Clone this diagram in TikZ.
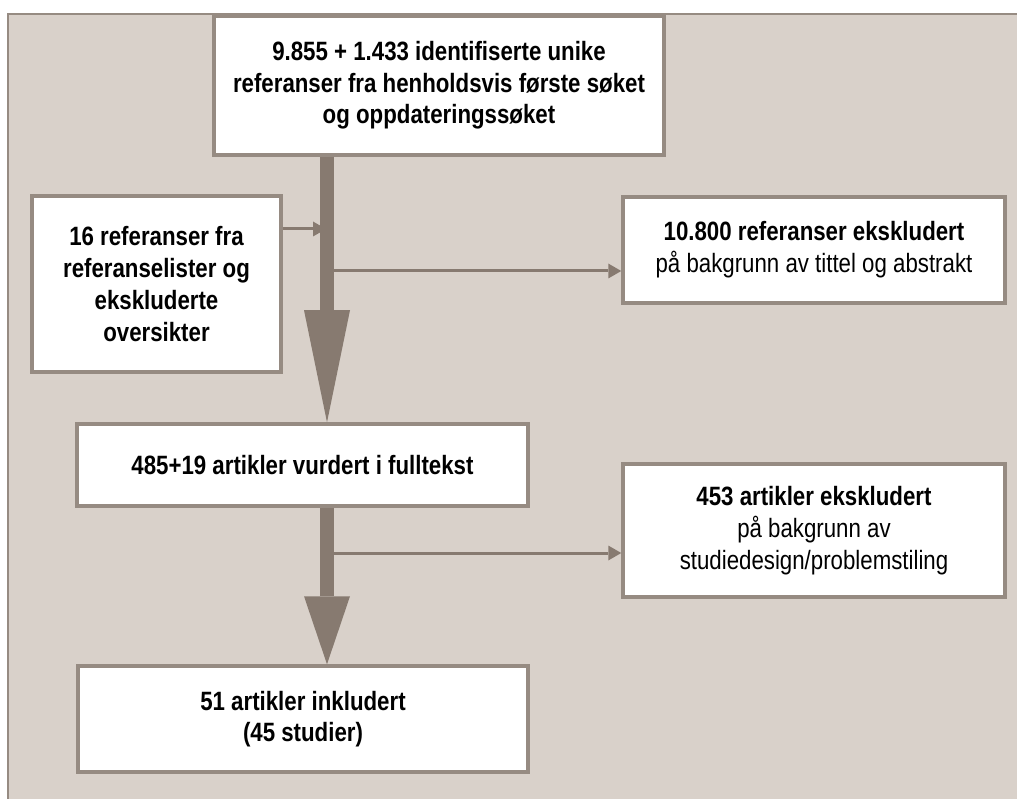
\documentclass[tikz,border=0pt]{standalone}
\usepackage{fontspec}
\newfontfamily\narrowsans{Liberation Sans}[FakeStretch=0.84]
\usetikzlibrary{arrows.meta}
\definecolor{panel}{HTML}{D9D1CA}
\definecolor{frame}{HTML}{968B82}
\definecolor{flowcol}{HTML}{877A70}
\tikzset{
  box/.style={draw=frame,line width=3.5pt,fill=white,inner sep=0pt,align=center,
    font=\narrowsans\fontsize{26.5}{31.7}\selectfont},
  boldbox/.style={box,font=\narrowsans\bfseries\fontsize{26.5}{31.7}\selectfont},
  mainflow/.style={draw=flowcol,line width=14pt,
    -{Triangle[length=#1,width=46pt,line width=0pt]}},
  exitarrow/.style={draw=flowcol,line width=3pt,
    -{Triangle[length=13pt,width=15pt,line width=0pt]}}
}
\begin{document}
\begin{tikzpicture}[x=1pt,y=-1pt]
  \useasboundingbox (0,0) rectangle (1017,799);
  \fill[panel] (8,14) rectangle (1017,799);
  \draw[frame,line width=1.5pt] (8,799) -- (8,14) -- (1017,14);

  \node[boldbox,minimum width=450pt,minimum height=139pt] (srch) at (439,85.5)
    {9.855 + 1.433 identifiserte unike\\ referanser fra henholdsvis første søket\\ og oppdateringssøket};
  \node[boldbox,minimum width=249pt,minimum height=176pt] (extra) at (156.5,284)
    {16 referanser fra\\ referanselister og\\ ekskluderte\\ oversikter};
  \node[box,minimum width=382pt,minimum height=106pt] (excl1) at (814,250)
    {\textbf{10.800 referanser ekskludert}\\ på bakgrunn av tittel og abstrakt};
  \node[boldbox,minimum width=451pt,minimum height=82pt] (full) at (302.5,465)
    {485+19 artikler vurdert i fulltekst};
  \node[box,minimum width=382pt,minimum height=133pt] (excl2) at (814,530.5)
    {\textbf{453 artikler ekskludert}\\ på bakgrunn av\\ studiedesign/problemstiling};
  \node[boldbox,minimum width=450pt,minimum height=106pt] (incl) at (303,719)
    {51 artikler inkludert\\ (45 studier)};

  % trunk and side branches
  \coordinate (trunk) at (327,0);
  \coordinate (in1) at (326,229);
  \coordinate (out1) at (334,271);
  \coordinate (out2) at (334,553);

  \draw[exitarrow] (in1 -| extra.east) -- (in1);
  \draw[mainflow=112pt] (srch.south -| trunk) -- (full.north -| trunk);
  \draw[exitarrow] (out1) -- (out1 -| excl1.west);
  \draw[mainflow=68pt] (full.south -| trunk) -- (incl.north -| trunk);
  \draw[exitarrow] (out2) -- (out2 -| excl2.west);
\end{tikzpicture}
\end{document}
